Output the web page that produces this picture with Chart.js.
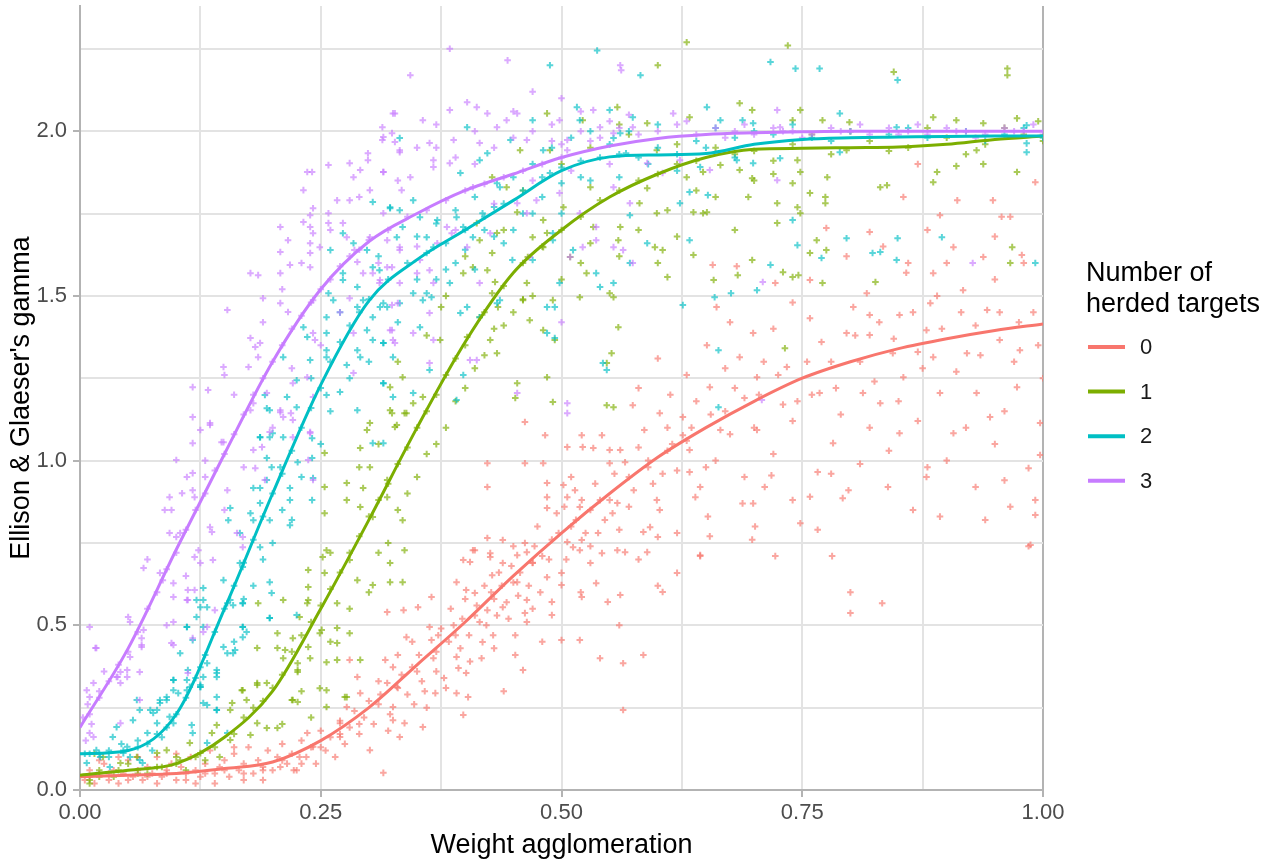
<!DOCTYPE html>
<html>
<head>
<meta charset="utf-8">
<script src="https://cdn.jsdelivr.net/npm/chart.js"></script>
<style>
  body { margin: 0; background: #fff; }
</style>
</head>
<body>
<canvas id="myChart" width="1267" height="863"></canvas>
<script>
// groups of the legend
const groups = ['0', '1', '2', '3'];
const colors = ['#F8766D', '#7CAE00', '#00BFC4', '#C77CFF'];

// tick labels
const xTicks = [0, 0.125, 0.25, 0.375, 0.5, 0.625, 0.75, 0.875, 1];
const xTickLabels = ['0.00', '0.25', '0.50', '0.75', '1.00'];
const yTicks = [0, 0.25, 0.5, 0.75, 1, 1.25, 1.5, 1.75, 2, 2.25];
const yTickLabels = ['0.0', '0.5', '1.0', '1.5', '2.0'];

// smoothed curves
const lineX = [0, 0.05, 0.1, 0.15, 0.2, 0.25, 0.3, 0.35, 0.4, 0.45, 0.5, 0.55, 0.6, 0.65, 0.7, 0.75, 0.8, 0.85, 0.9, 0.95, 1.0];
const line0 = [0.04, 0.045, 0.05, 0.065, 0.085, 0.15, 0.25, 0.38, 0.51, 0.65, 0.78, 0.9, 1.01, 1.1, 1.18, 1.25, 1.3, 1.34, 1.37, 1.395, 1.415];
const line1 = [0.045, 0.06, 0.08, 0.16, 0.3, 0.55, 0.82, 1.1, 1.36, 1.57, 1.7, 1.8, 1.87, 1.92, 1.945, 1.948, 1.95, 1.952, 1.96, 1.975, 1.985];
const line2 = [0.11, 0.12, 0.23, 0.55, 0.9, 1.23, 1.485, 1.61, 1.7, 1.79, 1.88, 1.922, 1.928, 1.932, 1.96, 1.975, 1.98, 1.982, 1.984, 1.985, 1.985];
const line3 = [0.19, 0.43, 0.73, 1.02, 1.3, 1.52, 1.665, 1.75, 1.82, 1.87, 1.92, 1.955, 1.978, 1.99, 1.995, 1.998, 2.0, 2.0, 2.0, 2.0, 2.0];

// scatter points, group 0
const pts0 = [
  [0.005,0.03],[0.01,0.06],[0.015,0.02],[0.02,0.05],[0.025,0.08],[0.03,0.03],[0.035,0.06],[0.04,0.02],[0.045,0.05],[0.05,0.09],
  [0.055,0.04],[0.06,0.06],[0.065,0.03],[0.07,0.07],[0.075,0.05],[0.08,0.1],[0.085,0.04],[0.09,0.06],[0.095,0.08],[0.1,0.03],
  [0.105,0.07],[0.11,0.05],[0.115,0.1],[0.12,0.06],[0.125,0.04],[0.13,0.08],[0.135,0.12],[0.14,0.05],[0.145,0.07],[0.15,0.09],
  [0.155,0.04],[0.16,0.11],[0.165,0.06],[0.17,0.08],[0.175,0.13],[0.18,0.05],[0.185,0.09],[0.19,0.07],[0.195,0.12],[0.2,0.06],
  [0.205,0.1],[0.21,0.14],[0.215,0.08],[0.22,0.11],[0.225,0.06],[0.23,0.15],[0.235,0.1],[0.24,0.13],[0.245,0.08],[0.25,0.18],
  [0.255,0.12],[0.26,0.16],[0.265,0.1],[0.27,0.21],[0.275,0.14],[0.28,0.19],[0.285,0.24],[0.29,0.17],[0.295,0.22],[0.3,0.27],
  [0.02,0.09],[0.06,0.1],[0.1,0.11],[0.14,0.02],[0.17,0.03],[0.12,0.02],[0.08,0.02],[0.04,0.1],[0.16,0.13],[0.19,0.03],
  [0.01,0.04],[0.03,0.05],[0.05,0.03],[0.07,0.04],[0.09,0.05],[0.11,0.03],[0.13,0.05],[0.15,0.06],[0.17,0.05],[0.19,0.06],
  [0.21,0.09],[0.23,0.08],[0.25,0.13],[0.27,0.17],[0.29,0.2],[0.31,0.26],[0.33,0.31],[0.35,0.36],[0.37,0.42],[0.39,0.47],
  [0.41,0.53],[0.43,0.58],[0.45,0.63],[0.47,0.69],[0.49,0.76],[0.51,0.8],[0.53,0.85],[0.55,0.88],[0.57,0.95],[0.59,0.98],
  [0.61,1.03],[0.63,1.06],
  [0.222,0.06],[0.228,0.1],[0.27,0.161],[0.27,0.203],[0.277,0.252],[0.291,0.294],[0.315,0.052],[0.329,0.313],[0.325,0.212],
  [0.301,0.121],[0.242,0.131],[0.236,0.173],[0.208,0.07],[0.28,0.395],[0.288,0.343],
  [0.305,0.2],[0.31,0.33],[0.32,0.18],[0.33,0.41],[0.34,0.29],[0.345,0.45],[0.355,0.33],[0.36,0.25],[0.37,0.36],[0.375,0.49],
  [0.38,0.31],[0.385,0.55],[0.395,0.43],[0.4,0.58],[0.405,0.39],[0.415,0.51],[0.42,0.62],[0.43,0.43],[0.435,0.66],[0.445,0.52],
  [0.45,0.74],[0.455,0.59],[0.47,0.55],[0.475,0.8],[0.48,0.71],[0.495,0.84],[0.505,0.7],[0.51,0.95],[0.525,0.78],[0.535,0.93],
  [0.545,0.82],[0.555,0.96],[0.57,0.86],[0.58,1.04],[0.595,0.93],[0.61,1.1],[0.62,0.97],[0.64,1.18],[0.66,1.0],[0.68,1.22],
  [0.7,1.1],[0.71,1.3],[0.73,1.17],[0.76,1.2],[0.77,1.36],[0.79,1.14],[0.81,1.3],[0.83,1.42],[0.85,1.18],[0.87,1.33],
  [0.89,1.5],[0.91,1.27],[0.93,1.41],[0.95,1.55],[0.97,1.3],[0.99,1.45],[1.0,1.25],[0.98,1.6],[0.96,1.15],[0.94,0.82],
  [0.92,1.1],[0.88,0.98],[0.86,1.6],[0.82,1.1],[0.78,0.96],[0.74,0.88],[0.72,1.4],[0.69,0.95],[0.67,1.28],[0.65,0.98],
  [0.62,0.78],[0.6,0.62],[0.58,0.7],[0.56,0.5],[0.54,0.4],[0.52,0.6],[0.48,0.45],[0.44,0.3],
  [0.312,0.29],[0.322,0.23],[0.334,0.35],[0.347,0.26],[0.352,0.41],[0.358,0.3],[0.367,0.4],[0.372,0.47],[0.378,0.34],[0.383,0.45],
  [0.388,0.5],[0.393,0.37],[0.397,0.52],[0.404,0.47],[0.412,0.56],[0.417,0.4],[0.422,0.5],[0.427,0.6],[0.433,0.53],[0.438,0.62],
  [0.443,0.57],[0.448,0.68],[0.457,0.66],[0.466,0.62],[0.472,0.74],[0.478,0.6],[0.487,0.7],[0.497,0.78],[0.503,0.86],[0.515,0.82],
  [0.53,0.74],[0.54,0.88],[0.56,0.79],[0.575,0.91],[0.59,1.0],[0.605,0.96],[0.615,1.05],[0.635,1.1],[0.655,1.14],[0.675,1.08],
  [0.69,1.19],[0.705,1.2],[0.725,1.26],[0.745,1.18],[0.755,1.3],[0.785,1.22],[0.805,1.38],[0.825,1.24],[0.845,1.37],[0.865,1.45],
  [0.875,1.28],[0.895,1.4],[0.915,1.45],[0.935,1.32],[0.955,1.45],[0.975,1.42],[0.995,1.35],[0.9,1.6],[0.95,1.68],[0.88,1.7],
  [0.319,0.54],[0.336,0.546],[0.351,0.555],[0.365,0.586],[0.339,0.464],[0.345,0.373],[0.363,0.495],[0.365,0.455],[0.325,0.373],
  [0.317,0.395],[0.319,0.325],[0.325,0.252],[0.337,0.203],[0.332,0.161],[0.356,0.191],[0.369,0.294],[0.391,0.404],[0.401,0.355],
  [0.391,0.294],[0.403,0.282],[0.398,0.228],[0.391,0.631],[0.401,0.607],[0.41,0.598],[0.398,0.698],[0.405,0.692],[0.41,0.728],
  [0.426,0.719],[0.428,0.652],[0.439,0.689],[0.439,0.555],[0.423,0.546],[0.418,0.449],[0.429,0.47],[0.452,0.47],[0.452,0.41],
  [0.46,0.364],[0.464,0.51],[0.464,0.577],[0.462,0.537],[0.454,0.631],[0.454,0.713],[0.464,0.722],[0.47,0.689],[0.485,0.646],
  [0.49,0.571],[0.49,0.531],[0.5,0.659],[0.5,0.622],[0.439,0.759],[0.423,0.765],[0.408,0.728],[0.426,0.707],[0.462,0.75],
  [0.423,0.92],[0.423,0.992],[0.462,0.992],[0.481,0.992],[0.485,0.932],[0.485,0.889],[0.485,0.856],[0.483,1.077],[0.462,1.117],
  [0.506,1.041],[0.502,0.926],[0.506,0.889],[0.514,0.91],[0.521,0.88],[0.519,0.859],[0.522,1.041],[0.521,1.077],[0.533,1.038],
  [0.542,1.077],[0.55,1.032],[0.561,1.032],[0.55,0.992],[0.566,0.995],[0.574,1.168],[0.586,1.093],[0.602,1.144],[0.626,1.132],
  [0.626,1.077],[0.633,1.032],[0.633,0.965],[0.644,0.92],[0.639,0.889],[0.599,0.88],[0.602,0.85],[0.592,0.798],[0.585,0.783],
  [0.6,0.768],[0.589,0.722],[0.558,0.728],[0.566,0.722],[0.561,0.592],[0.548,0.571],[0.536,0.628],[0.521,0.586],[0.53,0.689],
  [0.542,0.719],[0.519,0.728],[0.512,0.737],[0.506,0.753],[0.521,0.759],[0.538,0.78],[0.553,0.84],[0.558,0.871],[0.62,0.659],
  [0.605,0.601],[0.644,0.713],[0.585,0.41],[0.564,0.385],[0.564,0.243],[0.519,0.455],[0.5,0.455],
  [0.8,0.6],[0.8,0.537],[0.833,0.567],[0.985,0.74],[0.781,0.71],[0.722,0.71],[0.644,0.71],[0.966,0.86],[0.992,0.88],[0.893,0.83],
  [0.865,0.85],[0.839,0.92],[0.792,0.886],[0.766,0.79],[0.758,0.89],[0.748,0.81],[0.701,0.8],[0.698,0.76],[0.654,0.77],[0.652,0.83],
  [0.688,0.87],[0.699,0.87],[0.711,0.92],[0.718,0.955],[0.766,0.965],[0.798,0.91],[0.879,0.95],[0.96,0.94],[0.985,0.977],
  [0.907,1.648],[0.957,1.74],[0.948,1.79],[0.911,1.79],[0.992,1.845],[0.87,1.9],[0.855,1.8],[0.775,1.706],[0.82,1.694],[0.893,1.745],
  [0.966,1.74],[0.796,1.62],[0.834,1.65],[0.858,1.57],[0.657,1.594],[0.682,1.59],[0.722,1.539],[0.758,1.548],[0.817,1.508],[0.886,1.569],
  [0.938,1.618],[0.917,1.517],[0.978,1.624],[0.661,1.466],[0.74,1.48],[0.803,1.466],[0.851,1.442],[0.883,1.478],[0.942,1.457],[0.675,1.42],
  [0.699,1.387],[0.758,1.432],[0.82,1.442],[0.82,1.381],[0.879,1.396],[0.651,1.35],[0.685,1.314],[0.734,1.284],[0.796,1.387],[0.844,1.326],
  [0.886,1.314],[0.921,1.326],[0.955,1.366],[0.976,1.335],[0.654,1.223],[0.703,1.253],[0.768,1.205],[0.813,1.205],[0.855,1.253],[0.893,1.205],
  [0.931,1.205],[0.973,1.223],[0.665,1.093],[0.703,1.093],[0.782,1.053],[0.831,1.174],[0.851,1.083],[0.907,1.083],[0.945,1.132],[0.997,1.114],
  [0.987,0.744],[0.997,1.017],[0.992,0.835],[0.613,1.2],[0.63,1.26],[0.6,1.31],[0.58,1.22],[0.67,1.15],[0.72,1.02],[0.74,1.12],
  [0.78,1.3],[0.9,1.0],[0.93,0.92],[0.95,1.05],[0.87,1.12],[0.81,0.99],[0.84,1.03]
];

// group 1
const pts1 = [
  [0.01,0.03],[0.02,0.06],[0.035,0.04],[0.05,0.08],[0.07,0.05],[0.085,0.07],[0.1,0.1],[0.11,0.06],[0.13,0.09],[0.015,0.11],
  [0.02,0.04],[0.04,0.06],[0.06,0.05],[0.08,0.07],[0.1,0.08],[0.12,0.1],[0.14,0.13],[0.16,0.17],[0.17,0.22],[0.18,0.25],
  [0.19,0.27],[0.2,0.31],[0.21,0.35],[0.22,0.42],[0.23,0.47],[0.24,0.51],[0.25,0.56],[0.26,0.61],[0.27,0.66],[0.28,0.72],
  [0.29,0.77],[0.3,0.83],[0.31,0.88],[0.32,0.93],[0.33,0.99],[0.34,1.04],[0.35,1.1],[0.36,1.15],[0.37,1.2],[0.38,1.26],
  [0.39,1.31],[0.4,1.35],[0.42,1.45],[0.44,1.53],[0.46,1.6],[0.48,1.65],[0.5,1.7],[0.52,1.74],[0.54,1.79],[0.56,1.82],
  [0.58,1.85],[0.6,1.87],[0.62,1.9],[0.64,1.91],
  [0.21,0.2],[0.23,0.3],[0.24,0.22],[0.26,0.45],[0.28,0.55],[0.3,0.6],[0.31,0.72],[0.32,0.75],[0.33,0.85],[0.34,0.9],
  [0.35,0.95],[0.36,1.02],[0.37,1.05],[0.38,1.1],[0.39,1.18],[0.4,1.22],[0.41,1.28],[0.42,1.32],[0.43,1.4],[0.44,1.41],
  [0.45,1.45],[0.46,1.49],[0.47,1.5],[0.5,1.55],[0.52,1.6],[0.56,1.62],[0.58,1.7],[0.6,1.6],[0.62,1.68],[0.64,1.82],
  [0.66,1.8],[0.68,1.7],[0.7,1.85],[0.72,1.87],[0.26,0.72],[0.29,0.98],[0.31,1.05],[0.33,1.3],[0.36,1.38],[0.38,1.5],
  [0.4,1.62],[0.44,1.7],[0.46,1.82],[0.5,1.9],[0.53,1.95],[0.56,2.02],
  [0.01,0.02],[0.024,0.1],[0.042,0.082],[0.059,0.1],[0.08,0.112],[0.09,0.121],[0.104,0.09],[0.114,0.143],[0.125,0.112],[0.137,0.173],
  [0.142,0.197],[0.156,0.243],[0.169,0.303],[0.184,0.325],[0.184,0.431],[0.205,0.431],[0.211,0.4],[0.226,0.385],[0.226,0.358],[0.221,0.273],
  [0.205,0.188],[0.194,0.188],[0.184,0.203],[0.177,0.167],[0.156,0.152],[0.145,0.1],[0.205,0.476],[0.221,0.461],[0.239,0.4],[0.249,0.476],
  [0.256,0.388],[0.249,0.309],[0.267,0.492],[0.275,0.282],[0.185,0.567],[0.236,0.567],
  [0.254,1.023],[0.254,0.92],[0.254,0.84],[0.256,0.728],[0.252,0.707],[0.237,0.668],[0.237,0.616],[0.237,0.577],[0.254,0.659],[0.267,0.567],
  [0.251,0.486],[0.267,0.446],[0.237,0.434],[0.228,0.525],[0.211,0.577],[0.213,0.425],[0.226,0.364],[0.194,0.325],[0.184,0.319],
  [0.168,0.303],[0.173,0.273],[0.158,0.264],[0.22,0.273],[0.226,0.267],[0.256,0.303],[0.277,0.282],[0.256,0.252],[0.267,0.395],[0.28,0.476],
  [0.291,0.395],[0.28,0.698],[0.288,0.637],[0.304,0.622],[0.322,0.689],[0.304,0.829],[0.291,0.859],[0.277,0.88],[0.277,0.932],[0.294,0.917],
  [0.301,0.98],[0.319,0.941],[0.319,0.889],[0.335,0.819],[0.337,0.728],[0.322,0.631],[0.335,0.631],[0.329,1.108],[0.301,1.114],[0.291,1.038],
  [0.298,1.093],[0.324,1.144],[0.339,1.144],
  [0.322,1.223],[0.335,1.253],[0.346,1.174],[0.356,1.193],[0.322,1.153],[0.337,1.144],[0.327,1.102],[0.374,1.366],[0.375,1.466],[0.402,1.375],
  [0.415,1.435],[0.398,1.569],[0.408,1.587],[0.423,1.578],[0.428,1.508],[0.434,1.466],[0.426,1.366],[0.433,1.326],[0.431,1.542],[0.464,1.539],
  [0.46,1.487],[0.467,1.426],[0.481,1.396],[0.491,1.487],[0.493,1.366],[0.519,1.496],[0.526,1.569],[0.55,1.508],[0.554,1.496],[0.559,1.405],
  [0.552,1.326],[0.547,1.296],[0.485,1.253],[0.454,1.235],[0.452,1.19],[0.491,1.178],[0.547,1.168],[0.554,1.162],[0.61,1.557],[0.605,1.639],
  [0.597,1.648],[0.559,1.669],[0.533,1.709],[0.53,1.66],[0.509,1.618],[0.485,1.691],[0.481,1.648],[0.47,1.678],[0.465,1.618],[0.428,1.63],
  [0.433,1.691],[0.415,1.669],[0.412,1.721],[0.454,1.754],[0.481,1.73],[0.502,1.769],[0.53,1.83],[0.561,1.709],[0.581,1.781],[0.599,1.751],
  [0.61,1.76],[0.637,1.624],[0.637,1.754],[0.647,1.751],[0.589,1.827],[0.599,1.942],[0.63,1.86],[0.633,2.042],[0.589,2.024],[0.558,2.073],
  [0.522,2.033],[0.485,2.054],[0.457,1.942],[0.443,1.83],[0.428,1.86],[0.488,1.942],
  [0.685,2.085],[0.698,2.064],[0.74,2.033],[0.748,2.064],[0.771,2.033],[0.799,2.027],[0.886,2.042],[0.938,2.024],[0.973,2.039],[0.91,2.033],
  [0.685,1.882],[0.694,1.8],[0.698,1.857],[0.724,1.781],[0.724,1.721],[0.74,1.842],[0.748,1.876],[0.745,1.769],[0.748,1.751],[0.745,1.912],
  [0.776,1.86],[0.774,1.8],[0.774,1.781],[0.758,1.812],[0.831,1.83],[0.838,1.836],[0.796,1.942],[0.89,1.876],[0.886,1.845],[0.91,1.894],
  [0.938,1.9],[0.973,1.876],[0.931,1.942],[0.651,1.754],[0.647,1.876],[0.665,1.897],[0.765,1.669],[0.775,1.639],[0.758,1.63],[0.698,1.609],
  [0.658,1.548],[0.683,1.563],[0.73,1.572],[0.74,1.557],[0.746,1.563],[0.771,1.539],[0.826,1.542],[0.966,1.6],[0.968,1.648],[0.732,1.341],
  [0.963,2.19],[0.963,2.17],[0.63,2.27],[0.735,2.26],[0.6,2.2],[0.845,2.18],[0.57,1.99],[0.62,1.96],[0.66,1.95],
  [0.7,1.94],[0.74,1.96],[0.78,1.93],[0.82,1.97],[0.86,1.95],[0.9,1.98],[0.94,1.96],[0.98,1.99],[0.76,1.99],[0.84,1.94],
  [0.92,1.93],[0.96,2.01],[1.0,1.97],[0.8,2.0],[0.88,2.01],[0.72,1.91],[0.68,1.93],[0.995,2.03]
];

// group 2
const pts2 = [
  [0.005,0.11],[0.02,0.11],[0.03,0.1],[0.045,0.12],[0.06,0.13],[0.07,0.14],[0.08,0.17],[0.09,0.19],[0.1,0.23],[0.11,0.28],
  [0.12,0.34],[0.13,0.41],[0.14,0.48],[0.15,0.55],[0.16,0.62],[0.17,0.69],[0.18,0.76],[0.19,0.83],[0.2,0.9],[0.21,0.96],
  [0.22,1.03],[0.23,1.1],[0.24,1.16],[0.25,1.22],[0.26,1.3],[0.27,1.36],[0.28,1.41],[0.29,1.45],[0.3,1.49],[0.32,1.55],
  [0.34,1.6],[0.36,1.63],[0.38,1.66],[0.4,1.7],[0.42,1.74],[0.44,1.78],[0.46,1.82],[0.48,1.86],[0.5,1.89],[0.52,1.91],
  [0.54,1.92],[0.56,1.93],
  [0.16,0.45],[0.17,0.58],[0.18,0.62],[0.19,0.7],[0.2,0.75],[0.21,0.85],[0.22,0.82],[0.23,0.95],[0.24,1.25],[0.25,1.05],
  [0.26,1.15],[0.27,1.45],[0.28,1.25],[0.3,1.3],[0.31,1.62],[0.33,1.42],[0.35,1.55],[0.37,1.55],[0.39,1.6],[0.41,1.58],
  [0.43,1.68],[0.45,1.7],[0.47,1.75],[0.5,1.75],[0.53,1.85],[0.56,1.86],[0.59,1.9],[0.62,1.88],[0.65,1.95],[0.68,1.92],
  [0.007,0.082],[0.017,0.121],[0.034,0.161],[0.038,0.191],[0.049,0.131],[0.055,0.212],[0.062,0.243],[0.07,0.173],[0.076,0.234],[0.083,0.264],
  [0.09,0.282],[0.093,0.222],[0.097,0.303],[0.052,0.1],[0.065,0.082],[0.021,0.1],[0.111,0.303],[0.116,0.197],[0.117,0.173],[0.125,0.319],
  [0.132,0.143],[0.142,0.282],[0.142,0.243],[0.059,0.273],[0.073,0.243],[0.08,0.203],[0.09,0.273],[0.097,0.203],[0.112,0.364],[0.111,0.334],
  [0.125,0.313],[0.128,0.264],[0.097,0.334],[0.111,0.495],[0.117,0.455],[0.142,0.364],[0.142,0.343],[0.153,0.415],[0.161,0.425],[0.128,0.495],
  [0.132,0.555],[0.153,0.567],[0.169,0.495],[0.173,0.48],[0.169,0.567],[0.159,0.561],[0.197,0.522],[0.225,0.531],[0.031,0.07],[0.045,0.112],
  [0.062,0.091],[0.01,0.11],[0.03,0.12],[0.043,0.14],[0.06,0.15],[0.075,0.12],[0.085,0.16],
  [0.197,1.153],[0.225,1.162],[0.187,1.071],[0.197,1.071],[0.211,1.071],[0.241,1.068],[0.194,1.008],[0.199,0.98],[0.208,0.98],[0.241,1.008],
  [0.226,0.995],[0.194,0.941],[0.18,0.917],[0.187,0.917],[0.218,0.917],[0.218,0.88],[0.242,0.947],[0.241,0.88],[0.187,0.871],[0.156,0.856],
  [0.177,0.84],[0.18,0.819],[0.154,0.819],[0.197,0.819],[0.218,0.804],[0.166,0.78],[0.187,0.737],[0.169,0.677],[0.166,0.689],[0.149,0.637],
  [0.197,0.631],[0.199,0.598],[0.169,0.567],[0.156,0.577],[0.128,0.613],[0.128,0.577],[0.121,0.577],[0.125,0.555],[0.197,0.522],[0.111,0.495],
  [0.121,0.525],[0.169,0.495],[0.169,0.464],[0.149,0.434],[0.159,0.415],[0.132,0.385],[0.125,0.373],[0.104,0.415],[0.128,0.343],[0.142,0.355],
  [0.114,0.313],[0.125,0.313],[0.097,0.334],[0.102,0.294],[0.132,0.258],[0.142,0.243],[0.153,0.173],[0.083,0.273],[0.08,0.243],
  [0.332,1.979],[0.304,1.785],[0.322,1.766],[0.335,1.709],[0.329,1.678],[0.273,1.69],[0.284,1.66],[0.26,1.639],[0.298,1.639],[0.304,1.587],
  [0.311,1.578],[0.273,1.569],[0.273,1.548],[0.258,1.508],[0.263,1.487],[0.288,1.527],[0.294,1.487],[0.288,1.466],[0.315,1.478],[0.319,1.466],
  [0.256,1.435],[0.232,1.405],[0.236,1.375],[0.256,1.387],[0.304,1.435],[0.298,1.396],[0.304,1.366],[0.315,1.357],[0.288,1.335],[0.291,1.314],
  [0.256,1.314],[0.239,1.305],[0.211,1.314],[0.256,1.335],[0.277,1.29],[0.225,1.244],[0.215,1.193],[0.192,1.199],[0.194,1.159],[0.256,1.199],
  [0.27,1.208],[0.288,1.153],[0.315,1.235],[0.325,1.193],[0.304,1.053],[0.315,1.053],[0.2,1.083],[0.187,1.071],
  [0.322,1.769],[0.332,1.76],[0.346,1.79],[0.353,1.739],[0.36,1.678],[0.367,1.648],[0.371,1.73],[0.391,1.739],[0.398,1.709],[0.408,1.678],
  [0.418,1.751],[0.433,1.842],[0.436,1.83],[0.423,1.933],[0.415,1.912],[0.395,1.873],[0.402,2.012],[0.447,1.973],[0.47,2.033],[0.481,1.942],
  [0.488,1.873],[0.5,1.842],[0.516,2.073],[0.519,2.033],[0.55,2.064],[0.554,1.979],[0.561,1.994],[0.567,1.933],[0.574,2.042],[0.491,1.69],
  [0.491,1.669],[0.449,1.609],[0.47,1.609],[0.512,1.639],[0.536,1.569],[0.554,1.539],[0.571,1.6],[0.589,1.66],[0.623,1.781],[0.633,1.815],
  [0.644,1.891],[0.498,1.539],[0.54,1.527],[0.485,1.466],[0.493,1.466],[0.485,1.387],[0.493,1.372],[0.436,1.487],[0.433,1.478],[0.395,1.448],
  [0.402,1.466],[0.415,1.435],[0.365,1.496],[0.356,1.487],[0.36,1.508],[0.384,1.539],[0.346,1.508],[0.332,1.478],[0.3115,1.466],[0.315,1.357],
  [0.325,1.314],[0.353,1.405],[0.363,1.275],[0.398,1.26],[0.315,1.235],[0.346,1.205],[0.391,1.184],[0.543,1.296],[0.547,1.275],[0.626,1.472],
  [0.633,1.669],[0.571,1.745],
  [0.651,2.073],[0.665,2.033],[0.688,2.033],[0.699,2.024],[0.789,2.054],[0.983,2.018],[0.848,2.012],[0.682,1.912],[0.699,1.903],[0.727,1.918],
  [0.789,1.936],[0.983,1.936],[0.983,1.963],[0.652,1.806],[0.74,1.73],[0.745,1.654],[0.796,1.675],[0.849,1.675],[0.823,1.63],[0.831,1.633],
  [0.848,1.609],[0.77,1.615],[0.717,1.594],[0.992,1.6],[0.703,1.517],[0.659,1.496],[0.676,1.508],[0.663,1.335],[0.663,1.162],[0.895,1.678],
  [0.717,2.21],[0.743,2.19],[0.768,2.19],[0.849,2.155],[0.537,2.245],[0.582,2.17],[0.488,2.2],
  [0.6,1.95],[0.64,1.97],[0.68,1.98],[0.72,1.99],[0.76,1.98],[0.8,2.0],[0.84,1.99],[0.88,1.98],[0.92,2.0],[0.96,1.99],
  [1.0,1.98],[0.7,2.0],[0.78,1.97],[0.86,2.01],[0.94,1.97],[0.98,2.01],[0.66,2.01],[0.74,2.02],[0.62,1.93],[0.58,1.92],
  [0.35,1.68],[0.37,1.72],[0.39,1.76],[0.41,1.8],[0.43,1.77],[0.45,1.86],[0.47,1.9],[0.49,1.95],[0.51,1.98],[0.53,2.0],
  [0.38,1.58],[0.4,1.64],[0.42,1.7],[0.44,1.66],[0.46,1.75],[0.48,1.8],[0.52,1.86],[0.55,1.96],[0.57,2.0],[0.6,2.02]
];

// group 3
const pts3 = [
  [0.003,0.22],[0.006,0.15],[0.008,0.26],[0.012,0.2],[0.02,0.3],[0.025,0.36],
  [0.01,0.23],[0.02,0.28],[0.03,0.33],[0.04,0.38],[0.05,0.42],[0.06,0.48],[0.07,0.55],[0.08,0.6],[0.09,0.67],[0.1,0.72],
  [0.11,0.79],[0.12,0.85],[0.13,0.9],[0.14,0.97],[0.15,1.02],[0.16,1.08],[0.17,1.14],[0.18,1.2],[0.19,1.25],[0.2,1.3],
  [0.21,1.35],[0.22,1.4],[0.23,1.44],[0.24,1.48],[0.25,1.52],[0.26,1.55],[0.27,1.59],[0.28,1.62],[0.29,1.64],[0.3,1.67],
  [0.32,1.7],[0.34,1.74],[0.36,1.76],[0.38,1.79],[0.4,1.82],[0.42,1.84],[0.44,1.86],[0.46,1.88],[0.48,1.9],[0.5,1.92],
  [0.07,0.7],[0.09,0.5],[0.11,0.65],[0.13,1.0],[0.15,0.85],[0.16,1.2],[0.17,0.98],[0.19,1.42],[0.2,1.1],[0.21,1.52],
  [0.22,1.28],[0.23,1.6],[0.25,1.35],[0.26,1.7],[0.27,1.45],[0.29,1.8],[0.31,1.6],[0.33,1.85],[0.35,1.65],[0.37,1.95],
  [0.39,1.7],[0.41,1.9],[0.43,1.78],[0.45,1.98],[0.47,1.85],[0.49,2.02],[0.51,1.88],[0.53,1.97],[0.55,1.9],[0.57,2.05],
  [0.01,0.495],[0.017,0.431],[0.007,0.303],[0.01,0.282],[0.01,0.173],[0.014,0.161],[0.014,0.325],[0.042,0.358],[0.049,0.364],[0.066,0.486],
  [0.064,0.44],[0.05,0.525],[0.052,0.51],[0.038,0.343],[0.062,0.273],[0.042,0.203],[0.097,0.51],[0.097,0.44],[0.112,0.577],[0.128,0.48],
  [0.117,0.461],[0.016,0.431],[0.066,0.674],[0.083,0.659],[0.086,0.637],[0.097,0.586],[0.111,0.577],[0.112,0.607],[0.097,0.628],[0.064,0.461],
  [0.064,0.434],[0.052,0.404],[0.039,0.343],[0.042,0.325],[0.049,0.343],[0.062,0.358],[0.095,0.446],[0.093,0.78],[0.1,0.768],[0.104,0.78],
  [0.135,0.798],[0.137,0.783],[0.088,0.85],[0.095,0.85],[0.093,0.889],[0.106,0.901],[0.119,0.889],[0.111,0.95],[0.117,0.962],[0.117,0.91],
  [0.13,0.95],[0.119,0.707],[0.123,0.728],[0.125,0.689],[0.119,0.607],[0.1,1.002],[0.135,1.114],[0.125,1.093],[0.117,1.053],[0.149,1.056],
  [0.153,0.91],[0.138,0.698],[0.163,0.78],[0.169,0.768],[0.169,0.737],[0.14,0.546],[0.132,0.495],[0.112,0.355],[0.18,1.032],[0.182,0.977],
  [0.192,0.941],[0.189,1.041],[0.208,1.147],[0.219,1.144],[0.239,1.087],[0.242,0.941],[0.237,1.002],[0.197,1.087],
  [0.117,1.223],[0.133,1.214],[0.117,1.132],[0.135,1.108],[0.147,1.056],[0.149,1.284],[0.15,1.26],[0.153,1.457],[0.177,1.372],[0.182,1.345],
  [0.187,1.357],[0.185,1.314],[0.175,1.284],[0.177,1.569],[0.185,1.563],[0.19,1.493],[0.208,1.478],[0.216,1.451],[0.208,1.569],[0.208,1.633],
  [0.216,1.669],[0.208,1.709],[0.218,1.594],[0.232,1.821],[0.236,1.876],[0.241,1.876],[0.232,1.724],[0.239,1.745],[0.242,1.766],[0.239,1.709],
  [0.239,1.66],[0.239,1.63],[0.239,1.587],[0.242,1.69],[0.249,1.648],[0.242,1.487],[0.258,1.751],[0.258,1.721],[0.267,1.79],[0.28,1.79],
  [0.258,1.897],[0.28,1.903],[0.291,1.882],[0.284,1.86],[0.299,1.933],[0.299,1.912],[0.314,2.012],[0.314,1.973],[0.324,1.994],[0.327,1.967],
  [0.327,2.054],[0.332,1.936],[0.315,1.876],[0.301,1.821],[0.273,1.721],[0.277,1.678],[0.285,1.639],[0.288,1.603],[0.28,1.493],[0.294,1.569],
  [0.304,1.569],[0.301,1.678],[0.324,1.587],[0.311,1.539],[0.324,1.472],[0.324,1.396],[0.327,1.357],[0.284,1.266],[0.284,1.387],[0.242,1.387],
  [0.244,1.366],[0.236,1.253],[0.221,1.235],[0.208,1.153],[0.211,1.132],[0.221,1.123],[0.239,1.083],[0.221,1.071],[0.177,1.153],[0.18,1.174],
  [0.194,1.205],[0.242,1.193],[0.332,1.648],
  [0.325,2.054],[0.315,1.982],[0.315,1.876],[0.332,1.942],[0.334,1.821],[0.343,1.86],[0.356,2.033],[0.363,1.964],[0.367,1.912],[0.367,1.891],
  [0.384,2.064],[0.384,1.903],[0.388,1.973],[0.402,2.088],[0.412,2.073],[0.415,1.964],[0.423,2.054],[0.433,2.012],[0.454,2.054],[0.464,1.973],
  [0.443,2.033],[0.498,2.033],[0.506,1.973],[0.506,1.942],[0.533,2.064],[0.54,2.012],[0.554,1.994],[0.574,2.012],[0.616,2.054],[0.315,1.751],
  [0.319,1.669],[0.332,1.639],[0.319,1.587],[0.3115,1.548],[0.332,1.539],[0.35,1.569],[0.363,1.578],[0.367,1.539],[0.363,1.448],[0.367,1.366],
  [0.363,1.296],[0.322,1.396],[0.325,1.366],[0.346,1.387],[0.381,1.709],[0.386,1.69],[0.402,1.648],[0.415,1.539],[0.412,1.305],[0.405,1.305],
  [0.454,1.205],[0.506,1.174],[0.506,1.144],[0.5,1.42],[0.509,1.618],[0.522,1.648],[0.536,1.669],[0.536,1.709],[0.554,1.648],[0.564,1.639],
  [0.574,1.6],[0.571,1.781],[0.467,1.618],[0.474,1.79],[0.498,1.812],[0.454,1.781],[0.426,1.69],[0.408,1.83],[0.371,1.66],[0.353,1.609],
  [0.33,1.478],[0.464,1.751],[0.519,1.751],[0.554,1.83],[0.589,1.903],[0.605,1.873],[0.623,1.912],
  [0.724,2.064],[0.727,2.012],[0.654,1.882],[0.724,1.851],[0.709,1.542],[0.927,1.6],[0.708,1.184],[0.384,2.25],[0.444,2.215],[0.561,2.2],
  [0.562,2.185],[0.343,2.17],[0.5,2.1],[0.47,2.12],
  [0.5,1.96],[0.52,2.0],[0.54,1.98],[0.56,2.01],[0.58,1.99],[0.6,2.0],[0.62,2.02],[0.64,1.99],[0.66,2.01],[0.68,2.0],
  [0.7,1.99],[0.72,2.01],[0.74,2.0],[0.76,1.99],[0.78,2.01],[0.8,2.0],[0.82,1.99],[0.84,2.01],[0.86,2.0],[0.88,1.99],
  [0.9,2.01],[0.92,2.0],[0.94,1.99],[0.96,2.01],[0.98,2.0],[1.0,1.99],[0.63,2.03],[0.69,2.02],[0.75,1.98],[0.81,2.02],
  [0.87,2.02],[0.93,1.98],[0.99,2.02],[0.67,1.98],[0.73,2.0],[0.79,2.0],[0.85,1.99],[0.91,2.0],[0.97,2.0],
  [0.35,1.95],[0.37,2.02],[0.39,1.92],[0.41,2.0],[0.43,1.95],[0.45,2.06],[0.47,2.0],[0.49,1.97],[0.52,2.06],[0.55,2.03]
];

const allPts = [pts0, pts1, pts2, pts3];
const allLines = [line0, line1, line2, line3];

function withAlpha(hex, a) {
  const n = parseInt(hex.slice(1), 16);
  return 'rgba(' + (n >> 16) + ',' + ((n >> 8) & 255) + ',' + (n & 255) + ',' + a + ')';
}

const FONT = '"Liberation Sans", Arial, sans-serif';

// datasets: lines first so they sit on top, group 3 over group 0
const datasets = [];
for (let g = 3; g >= 0; g--) {
  datasets.push({
    type: 'line',
    data: lineX.map((x, i) => ({x: x, y: allLines[g][i]})),
    borderColor: colors[g],
    borderWidth: 3,
    pointRadius: 0,
    cubicInterpolationMode: 'monotone',
    fill: false
  });
}
for (let g = 3; g >= 0; g--) {
  datasets.push({
    type: 'scatter',
    data: allPts[g].map(p => ({x: p[0], y: p[1]})),
    pointStyle: 'cross',
    pointRadius: 3.3,
    pointBorderWidth: 2,
    borderColor: withAlpha(colors[g], 0.65),
    backgroundColor: withAlpha(colors[g], 0.65)
  });
}

const sideLegend = {
  id: 'sideLegend',
  afterDraw(chart) {
    const c = chart.ctx;
    c.save();
    c.fillStyle = '#000';
    c.font = '27px ' + FONT;
    c.textBaseline = 'alphabetic';
    c.textAlign = 'left';
    c.fillText('Number of', 1086, 281);
    c.fillText('herded targets', 1086, 312);
    c.font = '22px ' + FONT;
    c.textBaseline = 'middle';
    groups.forEach((g, i) => {
      const y = 347 + i * 44.6;
      c.strokeStyle = colors[i];
      c.lineWidth = 4;
      c.beginPath();
      c.moveTo(1088, y);
      c.lineTo(1125, y);
      c.stroke();
      c.fillStyle = '#1a1a1a';
      c.fillText(g, 1140, y + 1);
    });
    c.restore();
  }
};

const isMajor = (v, step) => Math.abs(v / step - Math.round(v / step)) < 1e-6;

new Chart(document.getElementById('myChart'), {
  type: 'scatter',
  data: { datasets: datasets },
  options: {
    responsive: false,
    animation: false,
    devicePixelRatio: 1,
    layout: { padding: { left: 0, right: 224, top: 5, bottom: 0 } },
    plugins: {
      legend: { display: false },
      tooltip: { enabled: false }
    },
    scales: {
      x: {
        type: 'linear',
        min: 0,
        max: 1,
        afterBuildTicks: s => { s.ticks = xTicks.map(v => ({value: v})); },
        afterFit: s => { s.height = 73; s.paddingLeft = 0; s.paddingRight = 0; },
        ticks: {
          autoSkip: false,
          maxRotation: 0,
          padding: 3,
          color: '#4D4D4D',
          font: { family: FONT, size: 22 },
          callback: v => isMajor(v, 0.25) ? xTickLabels[Math.round(v / 0.25)] : ''
        },
        grid: {
          color: ctx => (ctx.tick && ctx.tick.value === 1) ? '#B3B3B3' : '#E3E3E3',
          lineWidth: 2,
          tickLength: 7,
          tickColor: ctx => (ctx.tick && isMajor(ctx.tick.value, 0.25)) ? '#B3B3B3' : 'rgba(0,0,0,0)',
          tickWidth: 2
        },
        border: { color: '#B3B3B3', width: 2 },
        title: {
          display: true,
          text: 'Weight agglomeration',
          color: '#000',
          font: { family: FONT, size: 27, lineHeight: 1 },
          padding: { top: 0, bottom: 4 }
        }
      },
      y: {
        type: 'linear',
        min: 0,
        max: 2.38,
        afterBuildTicks: s => { s.ticks = yTicks.map(v => ({value: v})); },
        afterFit: s => { s.width = 80; s.paddingTop = 0; s.paddingBottom = 0; },
        ticks: {
          autoSkip: false,
          padding: 6,
          color: '#4D4D4D',
          font: { family: FONT, size: 22 },
          callback: v => isMajor(v, 0.5) ? yTickLabels[Math.round(v / 0.5)] : ''
        },
        grid: {
          color: '#E3E3E3',
          lineWidth: 2,
          tickLength: 7,
          tickColor: ctx => (ctx.tick && isMajor(ctx.tick.value, 0.5)) ? '#B3B3B3' : 'rgba(0,0,0,0)',
          tickWidth: 2
        },
        border: { color: '#B3B3B3', width: 2 },
        title: {
          display: true,
          text: "Ellison & Glaeser's gamma",
          color: '#000',
          font: { family: FONT, size: 27, lineHeight: 1 },
          padding: { top: 8, bottom: 0 }
        }
      }
    }
  },
  plugins: [sideLegend]
});
</script>
</body>
</html>
